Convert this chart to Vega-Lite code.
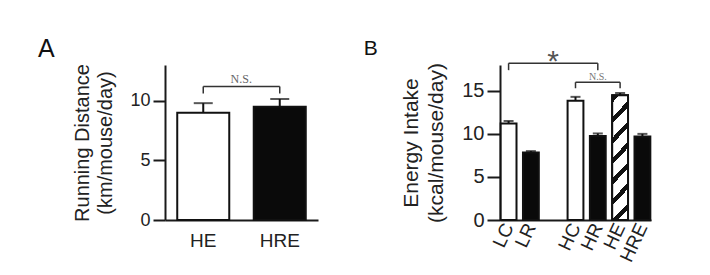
{
  "$schema": "https://vega.github.io/schema/vega-lite/v6.json",
  "background": "white",
  "padding": {"left": 37, "top": 36, "right": 5, "bottom": 5},
  "spacing": 45,
  "config": {
    "view": {"stroke": null},
    "font": "Liberation Sans",
    "axis": {
      "grid": false,
      "domainColor": "#1a1a1a",
      "domainWidth": 2,
      "tickColor": "#1a1a1a",
      "tickWidth": 2,
      "labelColor": "#222",
      "titleColor": "#222",
      "labelFont": "Liberation Sans",
      "titleFont": "Liberation Sans",
      "labelFontSize": 18,
      "titleFontSize": 20,
      "titleFontWeight": "normal",
      "titleLineHeight": 23
    },
    "title": {"fontWeight": "normal", "anchor": "start", "color": "#111", "font": "Liberation Sans"}
  },
  "hconcat": [
    {
      "width": 153,
      "height": 155,
      "title": {"text": "A", "fontSize": 25, "dx": -35, "offset": 2},
      "layer": [
        {
          "data": {"values": [
            {"group": "HE", "value": 9.0, "upper": 9.8},
            {"group": "HRE", "value": 9.5, "upper": 10.15}
          ]},
          "layer": [
            {
              "mark": {"type": "rule", "strokeWidth": 2, "color": "#111"},
              "encoding": {
                "x": {"field": "group", "type": "nominal"},
                "y": {"field": "value", "type": "quantitative"},
                "y2": {"field": "upper"}
              }
            },
            {
              "mark": {"type": "tick", "thickness": 2, "size": 19, "color": "#111"},
              "encoding": {
                "x": {"field": "group", "type": "nominal"},
                "y": {"field": "upper", "type": "quantitative"}
              }
            },
            {
              "mark": {"type": "bar", "stroke": "#111", "strokeWidth": 2},
              "encoding": {
                "x": {"field": "group", "type": "nominal"},
                "y": {"field": "value", "type": "quantitative"},
                "color": {"field": "group", "type": "nominal", "scale": {"domain": ["HE", "HRE"], "range": ["white", "#0a0a0a"]}, "legend": null}
              }
            }
          ]
        },
        {
          "data": {"values": [{"from": "HE", "to": "HRE", "top": 11.2, "bottom": 10.6, "label": "N.S.", "labelY": 11.5}]},
          "layer": [
            {
              "mark": {"type": "rule", "strokeWidth": 1.5, "color": "#333"},
              "encoding": {"x": {"field": "from", "type": "nominal"}, "x2": {"field": "to"}, "y": {"field": "top", "type": "quantitative"}}
            },
            {
              "mark": {"type": "rule", "strokeWidth": 1.5, "color": "#333"},
              "encoding": {"x": {"field": "from", "type": "nominal"}, "y": {"field": "top", "type": "quantitative"}, "y2": {"field": "bottom"}}
            },
            {
              "mark": {"type": "rule", "strokeWidth": 1.5, "color": "#333"},
              "encoding": {"x": {"field": "to", "type": "nominal"}, "y": {"field": "top", "type": "quantitative"}, "y2": {"field": "bottom"}}
            },
            {
              "mark": {"type": "text", "font": "Liberation Serif", "fontSize": 12, "color": "#666", "baseline": "alphabetic", "align": "center"},
              "encoding": {"x": {"field": "from", "type": "nominal", "bandPosition": 1.23}, "y": {"field": "labelY", "type": "quantitative"}, "text": {"field": "label"}}
            }
          ]
        }
      ],
      "encoding": {
        "x": {"scale": {"type": "band", "domain": ["HE", "HRE"], "paddingInner": 0.32, "paddingOuter": 0.16},
              "axis": {"title": null, "ticks": false, "labelAngle": 0, "labelPadding": 11, "labelFontSize": 19}},
        "y": {"scale": {"domain": [0, 13], "nice": false},
              "axis": {"values": [0, 5, 10], "title": ["Running Distance", "(km/mouse/day)"], "tickSize": 12, "labelPadding": 3, "titlePadding": 14}}
      }
    },
    {
      "width": 151,
      "height": 155,
      "title": {"text": "B", "fontSize": 21, "dx": -37, "offset": -12},
      "layer": [
        {
          "data": {"values": [
            {"group": "LC", "value": 11.2, "upper": 11.5},
            {"group": "LR", "value": 7.85, "upper": 8.0},
            {"group": "HC", "value": 13.85, "upper": 14.3},
            {"group": "HR", "value": 9.75, "upper": 10.05},
            {"group": "HE", "value": 14.5, "upper": 14.75},
            {"group": "HRE", "value": 9.7, "upper": 10.0}
          ]},
          "layer": [
            {
              "mark": {"type": "rule", "strokeWidth": 2, "color": "#111"},
              "encoding": {
                "x": {"field": "group", "type": "nominal"},
                "y": {"field": "value", "type": "quantitative"},
                "y2": {"field": "upper"}
              }
            },
            {
              "mark": {"type": "tick", "thickness": 2, "size": 10, "color": "#111"},
              "encoding": {
                "x": {"field": "group", "type": "nominal"},
                "y": {"field": "upper", "type": "quantitative"}
              }
            },
            {
              "mark": {"type": "bar", "stroke": "#111", "strokeWidth": 2},
              "encoding": {
                "x": {"field": "group", "type": "nominal"},
                "y": {"field": "value", "type": "quantitative"},
                "color": {"field": "group", "type": "nominal", "scale": {"domain": ["LC", "LR", "HC", "HR", "HE", "HRE"], "range": ["white", "#0a0a0a", "white", "#0a0a0a", "white", "#404040"]}, "legend": null}
              }
            },
            {
              "transform": [{"filter": "datum.group == 'HE'"}],
              "mark": {
                "type": "bar",
                "stroke": "#111",
                "strokeWidth": 2,
                "fill": {
                  "gradient": "linear",
                  "x1": 0, "y1": 0, "x2": 0.15, "y2": 1.11,
                  "stops": [
                    {"offset": 0, "color": "#111"},
                    {"offset": 0.055, "color": "#111"},
                    {"offset": 0.055, "color": "white"},
                    {"offset": 0.158, "color": "white"},
                    {"offset": 0.158, "color": "#111"},
                    {"offset": 0.203, "color": "#111"},
                    {"offset": 0.203, "color": "white"},
                    {"offset": 0.303, "color": "white"},
                    {"offset": 0.303, "color": "#111"},
                    {"offset": 0.348, "color": "#111"},
                    {"offset": 0.348, "color": "white"},
                    {"offset": 0.448, "color": "white"},
                    {"offset": 0.448, "color": "#111"},
                    {"offset": 0.493, "color": "#111"},
                    {"offset": 0.493, "color": "white"},
                    {"offset": 0.593, "color": "white"},
                    {"offset": 0.593, "color": "#111"},
                    {"offset": 0.638, "color": "#111"},
                    {"offset": 0.638, "color": "white"},
                    {"offset": 0.738, "color": "white"},
                    {"offset": 0.738, "color": "#111"},
                    {"offset": 0.783, "color": "#111"},
                    {"offset": 0.783, "color": "white"},
                    {"offset": 0.883, "color": "white"},
                    {"offset": 0.883, "color": "#111"},
                    {"offset": 0.928, "color": "#111"},
                    {"offset": 0.928, "color": "white"},
                    {"offset": 1, "color": "white"}
                  ]
                }
              },
              "encoding": {
                "x": {"field": "group", "type": "nominal"},
                "y": {"field": "value", "type": "quantitative"}
              }
            }
          ]
        },
        {
          "data": {"values": [
            {"from": "LC", "to": "HR", "mid": " ", "top": 18.2, "bottom": 17.4, "label": "*", "labelY": 17.35},
            {"from": "HC", "to": "HE", "mid": "HR", "top": 16.0, "bottom": 15.3, "label": "N.S.", "labelY": 16.25}
          ]},
          "layer": [
            {
              "mark": {"type": "rule", "strokeWidth": 1.5, "color": "#333"},
              "encoding": {"x": {"field": "from", "type": "nominal"}, "x2": {"field": "to"}, "y": {"field": "top", "type": "quantitative"}}
            },
            {
              "mark": {"type": "rule", "strokeWidth": 1.5, "color": "#333"},
              "encoding": {"x": {"field": "from", "type": "nominal"}, "y": {"field": "top", "type": "quantitative"}, "y2": {"field": "bottom"}}
            },
            {
              "mark": {"type": "rule", "strokeWidth": 1.5, "color": "#333"},
              "encoding": {"x": {"field": "to", "type": "nominal"}, "y": {"field": "top", "type": "quantitative"}, "y2": {"field": "bottom"}}
            },
            {
              "transform": [{"filter": "datum.label == '*'"}],
              "mark": {"type": "text", "font": "Liberation Sans", "fontSize": 30, "color": "#555", "baseline": "alphabetic", "align": "center"},
              "encoding": {"x": {"field": "mid", "type": "nominal"}, "y": {"field": "labelY", "type": "quantitative"}, "text": {"field": "label"}}
            },
            {
              "transform": [{"filter": "datum.label == 'N.S.'"}],
              "mark": {"type": "text", "font": "Liberation Serif", "fontSize": 10, "color": "#777", "baseline": "alphabetic", "align": "center"},
              "encoding": {"x": {"field": "mid", "type": "nominal"}, "y": {"field": "labelY", "type": "quantitative"}, "text": {"field": "label"}}
            }
          ]
        }
      ],
      "encoding": {
        "x": {"scale": {"type": "band", "domain": ["LC", "LR", " ", "HC", "HR", "HE", "HRE"], "paddingInner": 0.29, "paddingOuter": 0.03},
              "axis": {"title": null, "ticks": false, "labelAngle": -65, "labelPadding": 4, "labelFontSize": 19}},
        "y": {"scale": {"domain": [0, 18], "nice": false},
              "axis": {"values": [0, 5, 10, 15], "title": ["Energy Intake", "(kcal/mouse/day)"], "tickSize": 13, "labelPadding": 3, "labelFontSize": 20, "titleFontSize": 21, "titleLineHeight": 25, "titlePadding": 15}}
      }
    }
  ]
}
